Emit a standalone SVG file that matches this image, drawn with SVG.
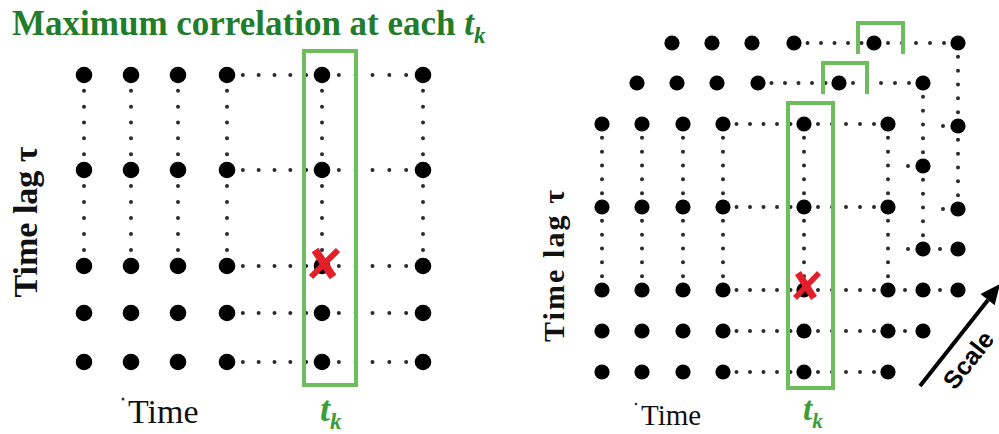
<svg xmlns="http://www.w3.org/2000/svg" width="999" height="434" viewBox="0 0 999 434">
<style>
.d{fill:#000}
.dl circle{r:8.3}
.dr circle{r:7.6}
.dt{stroke:#2a2a2a;stroke-width:4;stroke-linecap:round;fill:none}
.t{fill:#2a2a2a}
.box{fill:none;stroke:#6dbd5e;stroke-width:4}
.xm{stroke:#e3202a;stroke-linecap:butt}
.serif{font-family:"Liberation Serif","Times New Roman",serif}
.title{font-size:35px;font-weight:bold;fill:#1f7d2b}
.tk{font-weight:bold;font-style:italic;fill:#3a9e35}
</style>
<rect width="999" height="434" fill="#fff"/>

<text class="serif title" x="12" y="35">Maximum correlation at each <tspan font-style="italic">t</tspan><tspan font-style="italic" font-size="23" dy="8">k</tspan></text>

<g id="connectors">
  <g class="dt" style="stroke-dasharray:0 15.83">
    <line x1="84" y1="75" x2="84" y2="170"/><line x1="131" y1="75" x2="131" y2="170"/><line x1="178" y1="75" x2="178" y2="170"/>
    <line x1="227" y1="75" x2="227" y2="170"/><line x1="322" y1="75" x2="322" y2="170"/><line x1="423" y1="75" x2="423" y2="170"/>
    <line x1="227" y1="75" x2="322" y2="75"/><line x1="227" y1="170" x2="322" y2="170"/><line x1="227" y1="266" x2="322" y2="266"/>
    <line x1="227" y1="313" x2="322" y2="313"/><line x1="227" y1="362" x2="322" y2="362"/>
  </g>
  <g class="dt" style="stroke-dasharray:0 16">
    <line x1="84" y1="170" x2="84" y2="266"/><line x1="131" y1="170" x2="131" y2="266"/><line x1="178" y1="170" x2="178" y2="266"/>
    <line x1="227" y1="170" x2="227" y2="266"/><line x1="322" y1="170" x2="322" y2="266"/><line x1="423" y1="170" x2="423" y2="266"/>
  </g>
  <g class="dt" style="stroke-dasharray:0 16.83">
    <line x1="322" y1="75" x2="423" y2="75"/><line x1="322" y1="170" x2="423" y2="170"/><line x1="322" y1="266" x2="423" y2="266"/>
    <line x1="322" y1="313" x2="423" y2="313"/><line x1="322" y1="362" x2="423" y2="362"/>
  </g>
  <g class="dt" style="stroke-dasharray:0 13.83">
    <line x1="602" y1="124" x2="602" y2="207"/><line x1="642" y1="124" x2="642" y2="207"/><line x1="683" y1="124" x2="683" y2="207"/>
    <line x1="723" y1="124" x2="723" y2="207"/><line x1="804" y1="124" x2="804" y2="207"/><line x1="888" y1="124" x2="888" y2="207"/>
    <line x1="602" y1="207" x2="602" y2="290"/><line x1="642" y1="207" x2="642" y2="290"/><line x1="683" y1="207" x2="683" y2="290"/>
    <line x1="723" y1="207" x2="723" y2="290"/><line x1="804" y1="207" x2="804" y2="290"/><line x1="888" y1="207" x2="888" y2="290"/>
    <line x1="923" y1="83" x2="923" y2="166"/><line x1="923" y1="166" x2="923" y2="249"/>
    <line x1="958" y1="43" x2="958" y2="126"/><line x1="958" y1="126" x2="958" y2="209"/>
  </g>
  <g class="dt" style="stroke-dasharray:0 13.5">
    <line x1="723" y1="124" x2="804" y2="124"/><line x1="723" y1="207" x2="804" y2="207"/><line x1="723" y1="290" x2="804" y2="290"/>
    <line x1="723" y1="331" x2="804" y2="331"/><line x1="723" y1="372" x2="804" y2="372"/>
    <line x1="758" y1="83" x2="839" y2="83"/>
    <line x1="794" y1="43" x2="874" y2="43"/>
  </g>
  <g class="dt" style="stroke-dasharray:0 14">
    <line x1="804" y1="124" x2="888" y2="124"/><line x1="804" y1="207" x2="888" y2="207"/><line x1="804" y1="290" x2="888" y2="290"/>
    <line x1="804" y1="331" x2="888" y2="331"/><line x1="804" y1="372" x2="888" y2="372"/>
    <line x1="839" y1="83" x2="923" y2="83"/>
    <line x1="874" y1="43" x2="958" y2="43"/>
  </g>
  <g class="t">
    <circle cx="905" cy="290" r="2"/><circle cx="940" cy="290" r="2"/><circle cx="905" cy="331" r="2"/>
    <circle cx="908" cy="166" r="2"/><circle cx="908" cy="249" r="2"/><circle cx="940" cy="249" r="2"/>
    <circle cx="943" cy="126" r="2"/><circle cx="943" cy="209" r="2"/>
  </g>
</g>

<g id="left-grid" class="d dl">
  <circle cx="84" cy="75"/><circle cx="131" cy="75"/><circle cx="178" cy="75"/><circle cx="227" cy="75"/><circle cx="322" cy="75"/><circle cx="423" cy="75"/>
  <circle cx="84" cy="170"/><circle cx="131" cy="170"/><circle cx="178" cy="170"/><circle cx="227" cy="170"/><circle cx="322" cy="170"/><circle cx="423" cy="170"/>
  <circle cx="84" cy="266"/><circle cx="131" cy="266"/><circle cx="178" cy="266"/><circle cx="227" cy="266"/><circle cx="322" cy="266"/><circle cx="423" cy="266"/>
  <circle cx="84" cy="313"/><circle cx="131" cy="313"/><circle cx="178" cy="313"/><circle cx="227" cy="313"/><circle cx="322" cy="313"/><circle cx="423" cy="313"/>
  <circle cx="84" cy="362"/><circle cx="131" cy="362"/><circle cx="178" cy="362"/><circle cx="227" cy="362"/><circle cx="322" cy="362"/><circle cx="423" cy="362"/>
</g>

<g id="right-back" class="d dr">
  <circle cx="672" cy="43"/><circle cx="712" cy="43"/><circle cx="752" cy="43"/><circle cx="794" cy="43"/><circle cx="874" cy="43"/><circle cx="958" cy="43"/>
  <circle cx="958" cy="126"/><circle cx="958" cy="209"/><circle cx="958" cy="249"/><circle cx="958" cy="290"/>
</g>
<g id="right-middle" class="d dr">
  <circle cx="637" cy="83"/><circle cx="677" cy="83"/><circle cx="717" cy="83"/><circle cx="758" cy="83"/><circle cx="839" cy="83"/><circle cx="923" cy="83"/>
  <circle cx="923" cy="166"/><circle cx="923" cy="249"/><circle cx="923" cy="290"/><circle cx="923" cy="331"/>
</g>
<g id="right-front" class="d dr">
  <circle cx="602" cy="124"/><circle cx="642" cy="124"/><circle cx="683" cy="124"/><circle cx="723" cy="124"/><circle cx="804" cy="124"/><circle cx="888" cy="124"/>
  <circle cx="602" cy="207"/><circle cx="642" cy="207"/><circle cx="683" cy="207"/><circle cx="723" cy="207"/><circle cx="804" cy="207"/><circle cx="888" cy="207"/>
  <circle cx="602" cy="290"/><circle cx="642" cy="290"/><circle cx="683" cy="290"/><circle cx="723" cy="290"/><circle cx="804" cy="290"/><circle cx="888" cy="290"/>
  <circle cx="602" cy="331"/><circle cx="642" cy="331"/><circle cx="683" cy="331"/><circle cx="723" cy="331"/><circle cx="804" cy="331"/><circle cx="888" cy="331"/>
  <circle cx="602" cy="372"/><circle cx="642" cy="372"/><circle cx="683" cy="372"/><circle cx="723" cy="372"/><circle cx="804" cy="372"/><circle cx="888" cy="372"/>
</g>

<g id="tk-box-left"><rect class="box" x="304" y="51" width="52" height="334"/></g>
<g id="tk-box-right"><rect class="box" x="788" y="103" width="45" height="285"/></g>
<g id="tk-bracket-middle"><path class="box" d="M823,94 V63 H867 V94"/></g>
<g id="tk-bracket-back"><path class="box" d="M858,54 V23 H903 V54"/></g>

<g id="max-left" class="xm">
  <line x1="315" y1="250" x2="333" y2="277" stroke-width="8"/>
  <line x1="338" y1="250" x2="311" y2="277" stroke-width="6"/>
</g>
<g id="max-right" class="xm">
  <line x1="798" y1="273" x2="814" y2="298" stroke-width="7"/>
  <line x1="819" y1="273" x2="795" y2="298" stroke-width="5.5"/>
</g>

<g id="labels" class="serif">
  <text transform="translate(37,222) rotate(-90)" text-anchor="middle" font-size="34" font-weight="bold" fill="#111">Time lag τ</text>
  <text transform="translate(564,266) rotate(-90)" text-anchor="middle" font-size="30" font-weight="bold" fill="#111" textLength="152" lengthAdjust="spacing">Time lag τ</text>
  <circle cx="123" cy="399" r="1.5" fill="#333"/>
  <text x="128" y="423" font-size="34" fill="#111">Time</text>
  <circle cx="636" cy="404" r="1.3" fill="#333"/>
  <text x="641" y="425" font-size="29" fill="#111">Time</text>
  <text class="tk" x="320" y="421" font-size="36">t<tspan font-size="23" dy="8">k</tspan></text>
  <text class="tk" x="803" y="420" font-size="33">t<tspan font-size="21" dy="8">k</tspan></text>
</g>

<g id="scale-arrow">
  <line x1="920" y1="386" x2="988" y2="300" stroke="#000" stroke-width="4"/>
  <polygon points="1000,284 994.7,305.3 980.5,294.1" fill="#000"/>
  <text transform="translate(955,391) rotate(-52)" font-family="Liberation Sans, Arial, sans-serif" font-size="25" font-weight="bold" fill="#000">Scale</text>
</g>
</svg>
